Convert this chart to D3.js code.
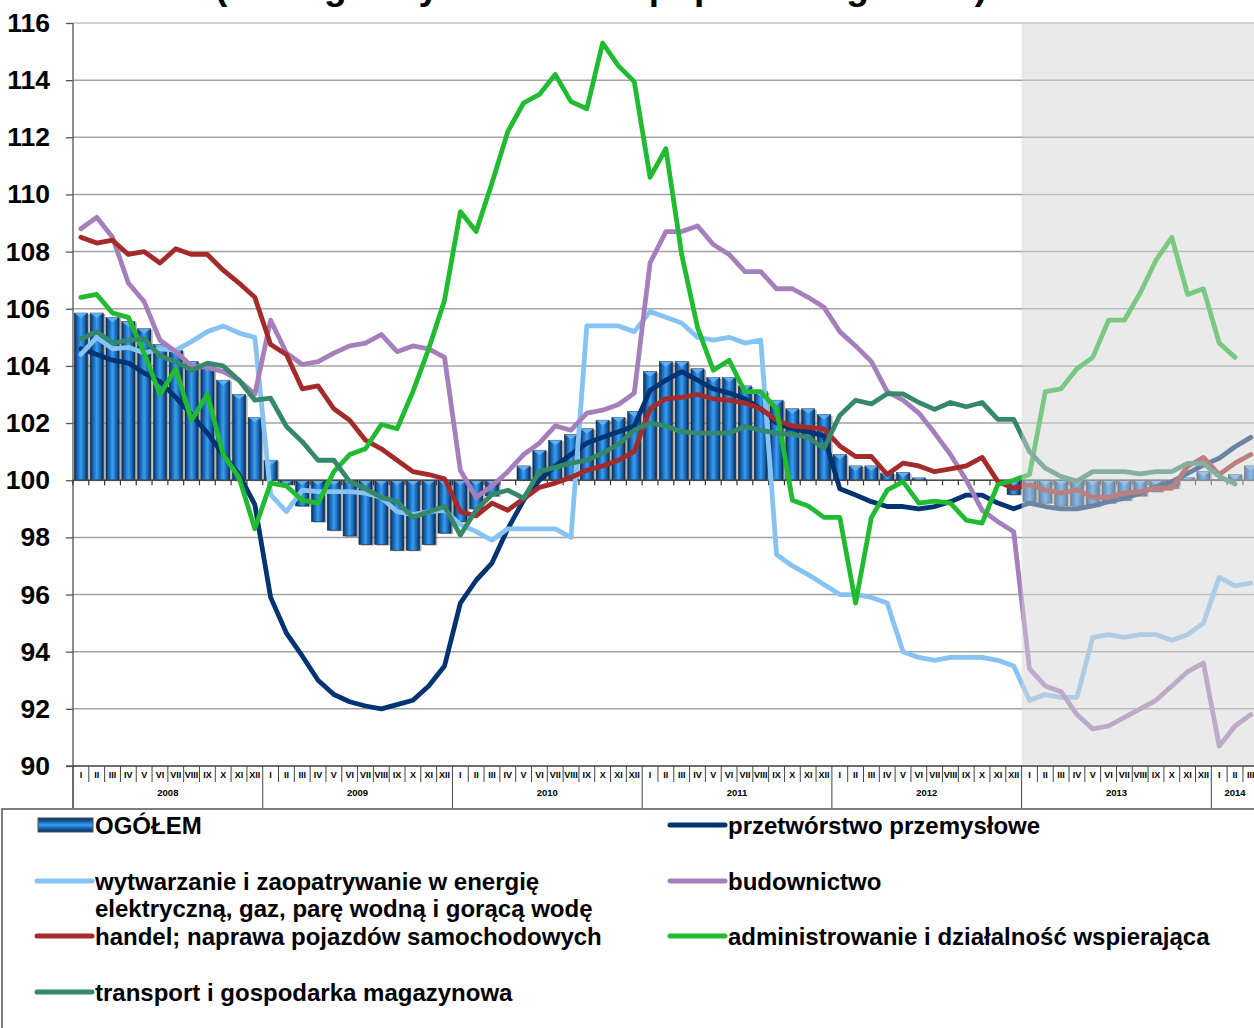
<!DOCTYPE html>
<html>
<head>
<meta charset="utf-8">
<script src="https://cdn.jsdelivr.net/npm/d3@7"></script>
<style>
body { margin: 0; background: #fff; }
svg { display: block; }
text { font-family: "Liberation Sans", Arial, sans-serif; font-weight: bold; }
</style>
</head>
<body>
<svg id="chart" width="1254" height="1028"></svg>
<script>
// axis labels
var monthNames = ["I","II","III","IV","V","VI","VII","VIII","IX","X","XI","XII"];
var years = ["2008","2009","2010","2011","2012","2013","2014"];
var monthsPerYear = [12,12,12,12,12,12,3];
var yTicks = [90,92,94,96,98,100,102,104,106,108,110,112,114,116];

// series, monthly 2008 I .. 2014 III
var ogolem = [
	105.85,105.85,105.7,105.55,105.3,104.75,104.55,104.15,104.0,103.5,103.0,102.2,
	100.7,99.85,99.1,98.55,98.25,98.05,97.75,97.75,97.55,97.55,97.75,98.15,
	98.55,99.0,99.45,100.0,100.5,101.05,101.4,101.6,101.8,102.1,102.2,102.4,
	103.8,104.15,104.15,103.9,103.6,103.6,103.3,103.1,102.8,102.5,102.5,102.3,
	100.9,100.5,100.5,100.25,100.27,100.08,100.0,100.0,100.0,100.0,100.0,99.5,
	99.25,99.2,99.1,99.1,99.08,99.2,99.3,99.45,99.6,99.72,100.1,100.3,
	100.02,100.2,100.5
];
var przetworstwo = [
	104.6,104.4,104.2,104.1,103.75,103.45,102.9,102.3,101.65,100.9,100.2,99.15,
	95.9,94.65,93.85,93.0,92.5,92.25,92.1,92.0,92.15,92.3,92.8,93.5,
	95.7,96.5,97.1,98.3,99.3,100.0,100.5,100.9,101.3,101.5,101.7,101.9,
	103.15,103.5,103.8,103.5,103.2,103.05,102.85,102.5,102.0,101.8,101.7,101.55,
	99.7,99.48,99.25,99.08,99.08,99.0,99.08,99.25,99.48,99.48,99.2,99.0,
	99.2,99.08,99.0,99.0,99.1,99.25,99.37,99.54,99.77,99.95,100.24,100.53,
	100.77,101.17,101.5
];
var wytwarzanie = [
	104.4,105.0,104.6,104.65,104.45,104.6,104.55,104.85,105.2,105.4,105.15,105.0,
	99.5,98.9,99.65,99.6,99.6,99.6,99.55,99.4,98.9,98.8,98.9,98.95,
	98.45,98.2,97.9,98.3,98.3,98.3,98.3,98.0,105.4,105.4,105.4,105.2,
	105.9,105.7,105.5,105.0,104.9,105.0,104.8,104.9,97.4,97.0,96.7,96.35,
	96.0,96.0,95.9,95.7,94.0,93.8,93.7,93.8,93.8,93.8,93.7,93.5,
	92.3,92.5,92.4,92.4,94.5,94.6,94.5,94.6,94.6,94.4,94.6,95.0,
	96.6,96.3,96.4
];
var budownictwo = [
	108.8,109.2,108.5,106.9,106.25,104.9,104.5,104.0,103.95,103.8,103.5,103.0,
	105.6,104.45,104.05,104.15,104.45,104.7,104.8,105.1,104.5,104.7,104.6,104.3,
	100.35,99.4,99.8,100.3,100.9,101.3,101.9,101.75,102.35,102.45,102.65,103.05,
	107.6,108.7,108.7,108.9,108.25,107.9,107.3,107.3,106.7,106.7,106.4,106.05,
	105.2,104.7,104.15,103.1,102.8,102.35,101.65,100.9,100.0,98.95,98.55,98.2,
	93.4,92.8,92.6,91.8,91.3,91.4,91.7,92.0,92.3,92.8,93.3,93.6,
	90.7,91.4,91.8
];
var handel = [
	108.5,108.3,108.4,107.9,108.0,107.6,108.1,107.9,107.9,107.35,106.9,106.4,
	104.75,104.4,103.2,103.3,102.5,102.1,101.4,101.1,100.7,100.3,100.2,100.05,
	98.9,98.75,99.2,98.95,99.35,99.75,99.9,100.1,100.35,100.5,100.7,101.0,
	102.5,102.85,102.9,103.0,102.85,102.8,102.7,102.5,102.1,101.9,101.85,101.8,
	101.2,100.83,100.83,100.2,100.6,100.5,100.3,100.4,100.5,100.8,99.95,99.72,
	99.84,99.66,99.55,99.66,99.4,99.4,99.55,99.6,99.72,99.72,100.48,100.8,
	100.2,100.6,100.9
];
var administrowanie = [
	106.4,106.5,105.85,105.7,104.45,103.0,103.9,102.1,103.0,100.9,100.1,98.3,
	99.9,99.8,99.3,99.2,100.3,100.9,101.1,101.95,101.8,103.1,104.6,106.3,
	109.4,108.7,110.4,112.2,113.2,113.5,114.2,113.25,113.0,115.3,114.5,113.95,
	110.6,111.6,107.9,105.35,103.85,104.2,103.1,103.1,102.5,99.3,99.1,98.7,
	98.7,95.7,98.7,99.65,99.95,99.2,99.27,99.2,98.6,98.5,99.85,100.0,
	100.2,103.1,103.2,103.9,104.3,105.6,105.6,106.55,107.7,108.5,106.5,106.7,
	104.8,104.3,null
];
var transport = [
	104.95,105.2,104.8,104.9,104.95,104.35,104.15,103.85,104.1,104.0,103.5,102.8,
	102.87,101.88,101.35,100.7,100.7,99.95,99.7,99.4,99.25,98.7,98.9,99.08,
	98.08,98.96,99.5,99.65,99.37,100.3,100.45,100.6,100.7,100.95,101.25,101.75,
	102.0,101.9,101.7,101.65,101.65,101.65,101.88,101.75,101.65,101.6,101.5,101.12,
	102.27,102.8,102.67,103.03,103.02,102.72,102.48,102.72,102.57,102.72,102.13,102.13,
	101.0,100.42,100.13,99.97,100.3,100.3,100.3,100.22,100.3,100.3,100.59,100.59,
	100.13,99.87,null
];

var lineSeries = [
	{name:"przetwórstwo przemysłowe", values:przetworstwo, color:"#003371"},
	{name:"wytwarzanie i zaopatrywanie w energię|elektryczną, gaz, parę wodną i gorącą wodę", values:wytwarzanie, color:"#86c3f3"},
	{name:"budownictwo", values:budownictwo, color:"#a57fbb"},
	{name:"handel; naprawa pojazdów samochodowych", values:handel, color:"#a52b2b"},
	{name:"administrowanie i działalność wspierająca", values:administrowanie, color:"#20bb30"},
	{name:"transport i gospodarka magazynowa", values:transport, color:"#35896a"}
];

function drawChart() {
	var W = 1254, H = 1028;
	var plotLeft = 73, plotTop = 23, plotBottom = 766;
	var step = 15.81;
	var n = ogolem.length;
	var svg = d3.select("#chart");

	var x = d3.scaleBand().domain(d3.range(n)).range([plotLeft, plotLeft + n*step]).paddingInner(0.17).paddingOuter(0.085);
	var y = d3.scaleLinear().domain([90,116]).range([plotBottom, plotTop]);
	function cx(i) { return x(i) + x.bandwidth()/2; }
	function bound(k) { return plotLeft + k*step; }

	// gradients
	var defs = svg.append("defs");
	var g1 = defs.append("linearGradient").attr("id","barGrad").attr("x1","0").attr("x2","1").attr("y1","0").attr("y2","0");
	[[0,"#0a2a52"],[0.2,"#1560ae"],[0.5,"#3a9df0"],[0.8,"#1560ae"],[1,"#0a2a52"]].forEach(function(s) {
		g1.append("stop").attr("offset", s[0]).attr("stop-color", s[1]);
	});
	var g2 = defs.append("linearGradient").attr("id","legGrad").attr("x1","0").attr("x2","0").attr("y1","0").attr("y2","1");
	[[0,"#0a2a52"],[0.25,"#1560ae"],[0.5,"#3a9df0"],[0.75,"#1560ae"],[1,"#0a2a52"]].forEach(function(s) {
		g2.append("stop").attr("offset", s[0]).attr("stop-color", s[1]);
	});

	// title (cut off at the top)
	svg.append("text").attr("x",215).attr("y",-1).style("font-size","37px")
		.text("(analogiczny okres roku poprzedniego=100)");

	// gridlines
	svg.append("g").selectAll("line").data(yTicks).enter().append("line")
		.attr("x1", plotLeft).attr("x2", W)
		.attr("y1", function(d){ return y(d); }).attr("y2", function(d){ return y(d); })
		.attr("stroke", function(d){ return d == 116 ? "#c4c4c4" : "#a3a3a3"; })
		.attr("stroke-width", 1.5);

	// y axis
	var yAxis = svg.append("g").attr("transform","translate(" + plotLeft + ",0)")
		.call(d3.axisLeft(y).tickValues(yTicks).tickSize(7).tickPadding(16).tickFormat(d3.format("d")));
	yAxis.select(".domain").remove();
	yAxis.selectAll(".tick line").attr("stroke","#555").attr("stroke-width",1.3);
	yAxis.selectAll(".tick text").style("font-size","26.5px").attr("fill","#000")
		.style("font-family","'Liberation Sans', Arial, sans-serif").style("font-weight","bold");
	svg.append("line").attr("x1",plotLeft).attr("x2",plotLeft).attr("y1",plotTop).attr("y2",808)
		.attr("stroke","#555").attr("stroke-width",1.3);

	// bars
	var bars = svg.append("g");
	ogolem.forEach(function(v, i) {
		var y0 = y(Math.max(v,100)), y1 = y(Math.min(v,100));
		if (y1 - y0 < 0.5) return;
		var bx = x(i), bw = x.bandwidth();
		bars.append("rect").attr("x", bx+2).attr("y", y0+1).attr("width", bw).attr("height", y1-y0)
			.attr("fill","#777").attr("opacity",0.6);
		bars.append("rect").attr("x", bx).attr("y", y0).attr("width", bw).attr("height", y1-y0)
			.attr("fill","url(#barGrad)").attr("stroke","#1b2a3a").attr("stroke-width",0.6);
		var th = Math.min(5, y1-y0);
		bars.append("path")
			.attr("d","M"+bx+","+y0+"L"+(bx+bw)+","+y0+"L"+(bx+bw/2)+","+(y0+th)+"Z")
			.attr("fill","#6fb8f5").attr("opacity",0.8);
	});

	// category axis at 100
	svg.append("line").attr("x1",plotLeft).attr("x2",W).attr("y1",y(100)).attr("y2",y(100))
		.attr("stroke","#4a4a4a").attr("stroke-width",1.5);
	svg.append("g").selectAll("line").data(d3.range(n+1)).enter().append("line")
		.attr("x1", bound).attr("x2", bound)
		.attr("y1", y(100)).attr("y2", y(100)+5)
		.attr("stroke","#333").attr("stroke-width",1.2);

	// lines
	var line = d3.line()
		.defined(function(d){ return d != null; })
		.x(function(d,i){ return cx(i); })
		.y(function(d){ return y(d); });
	svg.append("g").selectAll("path").data(lineSeries).enter().append("path")
		.attr("d", function(s){ return line(s.values); })
		.attr("fill","none")
		.attr("stroke", function(s){ return s.color; })
		.attr("stroke-width",4.8)
		.attr("stroke-linejoin","round")
		.attr("stroke-linecap","round");

	// shaded area (2013 onward)
	svg.append("rect").attr("x", bound(60)).attr("y", plotTop+1)
		.attr("width", W - bound(60)).attr("height", plotBottom - plotTop - 1)
		.attr("fill","#d6d6d6").attr("opacity",0.5);

	// bottom axis: months and years
	svg.append("line").attr("x1",66).attr("x2",W).attr("y1",plotBottom).attr("y2",plotBottom)
		.attr("stroke","#555").attr("stroke-width",1.3);
	var yearStart = [0];
	monthsPerYear.forEach(function(m, k){ yearStart.push(yearStart[k] + m); });
	svg.append("g").selectAll("line").data(d3.range(n+1)).enter().append("line")
		.attr("x1", bound).attr("x2", bound)
		.attr("y1", plotBottom)
		.attr("y2", function(k){ return yearStart.indexOf(k) >= 0 ? 808 : 782; })
		.attr("stroke","#444").attr("stroke-width",1);
	svg.append("g").selectAll("text").data(d3.range(n)).enter().append("text")
		.attr("x", cx).attr("y", 778)
		.attr("text-anchor","middle").style("font-size","9px")
		.text(function(i){ return monthNames[i % 12]; });
	svg.append("g").selectAll("text").data(years).enter().append("text")
		.attr("x", function(d,k){ return (bound(yearStart[k]) + bound(yearStart[k+1]))/2; })
		.attr("y", 796)
		.attr("text-anchor","middle").style("font-size","9.5px")
		.text(function(d){ return d; });

	// legend
	var leg = svg.append("g");
	leg.append("rect").attr("x",2).attr("y",809).attr("width",1270).attr("height",240)
		.attr("fill","none").attr("stroke","#555").attr("stroke-width",1.5);
	var legItems = [
		{name:"OGÓŁEM", bar:true, col:0, row:825},
		{name:lineSeries[0].name, color:lineSeries[0].color, col:1, row:825},
		{name:lineSeries[1].name, color:lineSeries[1].color, col:0, row:881},
		{name:lineSeries[2].name, color:lineSeries[2].color, col:1, row:881},
		{name:lineSeries[3].name, color:lineSeries[3].color, col:0, row:936},
		{name:lineSeries[4].name, color:lineSeries[4].color, col:1, row:936},
		{name:lineSeries[5].name, color:lineSeries[5].color, col:0, row:992}
	];
	var colX = [37, 670];
	legItems.forEach(function(it) {
		var x0 = colX[it.col];
		if (it.bar) {
			leg.append("rect").attr("x", x0+1).attr("y", it.row-7).attr("width",55).attr("height",14)
				.attr("fill","url(#legGrad)").attr("stroke","#555").attr("stroke-width",1);
		} else {
			leg.append("line").attr("x1", x0).attr("x2", x0+55).attr("y1", it.row).attr("y2", it.row)
				.attr("stroke", it.color).attr("stroke-width",5).attr("stroke-linecap","round");
		}
		var t = leg.append("text").attr("x", x0+58).attr("y", it.row).style("font-size","24px");
		it.name.split("|").forEach(function(part, k) {
			t.append("tspan").attr("x", x0+58).attr("dy", k == 0 ? "0.36em" : "1.15em").text(part);
		});
	});
}

drawChart();
</script>
</body>
</html>
